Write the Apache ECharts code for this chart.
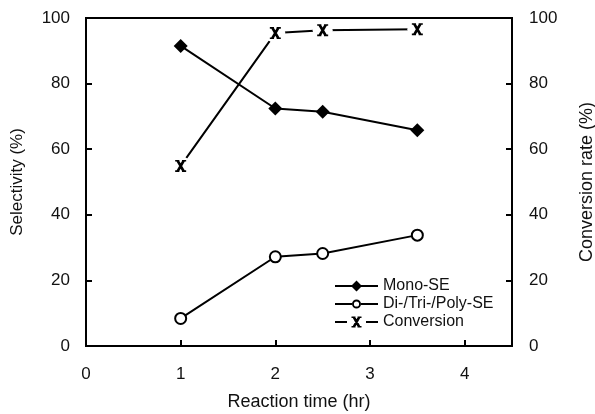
<!DOCTYPE html>
<html>
<head>
<meta charset="utf-8">
<script src="https://cdn.jsdelivr.net/npm/echarts@6/dist/echarts.min.js"></script>
<style>html,body{margin:0;padding:0;background:#fff}#c{width:595px;height:414px}</style>
</head>
<body>
<div id="c"></div>
<script>
// Data
const reactionTime = [1, 2, 2.5, 3.5];
const monoSE = [91.5, 72.4, 71.4, 65.8];
const diTriPolySE = [8.4, 27.2, 28.2, 33.8];
const conversion = [54.9, 95.4, 96.3, 96.6];
const xTicks = [0, 1, 2, 3, 4];
const yTicks = [0, 20, 40, 60, 80, 100];

const pair = (xs, ys) => xs.map((x, i) => [x, ys[i]]);
const FONT = 'Liberation Sans, Arial, sans-serif';
const xMarker = 'path://M0,0H4.2V1.6H0Z M6.8,0H11V1.6H6.8Z M0,10.4H4.2V12H0Z M6.8,10.4H11V12H6.8Z M0.5,0H3.6L10.5,12H7.4Z M7.4,0H10.5L3.6,12H0.5Z';
const monoIcon = 'path://M0,6H43V8H0Z M21.5,1.5L27,7L21.5,12.5L16,7Z';
const diIcon = 'path://M0,6H17V8H0Z M26,6H43V8H26Z M17,7A4.5,4.5 0 1,1 26,7A4.5,4.5 0 1,1 17,7Z M18.9,7A2.6,2.6 0 1,0 24.1,7A2.6,2.6 0 1,0 18.9,7Z';
const convIcon = 'path://M0,6H12V8H0Z M31,6H43V8H31Z M16.5,1.5H20.5V3H16.5Z M22.5,1.5H26.5V3H22.5Z M16.5,11H20.5V12.5H16.5Z M22.5,11H26.5V12.5H22.5Z M17,1.5H20L26,12.5H23Z M23,1.5H26L20,12.5H17Z';

const chart = echarts.init(document.getElementById('c'));
const axisCommon = {
  axisLine: {show: true, lineStyle: {color: '#000', width: 2}},
  axisTick: {show: true, inside: true, length: 6, lineStyle: {color: '#000', width: 2}},
  splitLine: {show: false},
  axisLabel: {color: '#111', fontFamily: FONT, fontSize: 17},
  nameTextStyle: {color: '#111', fontFamily: FONT, fontSize: 17}
};
chart.setOption({
  animation: false,
  backgroundColor: '#fff',
  grid: {left: 86, right: 83, top: 18, bottom: 68, show: true, borderColor: '#000', borderWidth: 2,
         containLabel: false, outerBoundsMode: 'none'},
  legend: {
    orient: 'vertical', left: 330, top: 273, itemWidth: 43, itemHeight: 14, itemGap: 2,
    textStyle: {color: '#111', fontFamily: FONT, fontSize: 16},
    data: [
      {name: 'Mono-SE', icon: monoIcon, itemStyle: {color: '#000', borderWidth: 0}},
      {name: 'Di-/Tri-/Poly-SE', icon: diIcon, itemStyle: {color: '#000', borderWidth: 0}},
      {name: 'Conversion', icon: convIcon, itemStyle: {color: '#000', borderWidth: 0}}
    ]
  },
  xAxis: Object.assign({}, axisCommon, {
    type: 'value', min: xTicks[0], max: 4.5, interval: 1,
    name: 'Reaction time (hr)', nameLocation: 'middle', nameGap: 47,
    nameTextStyle: Object.assign({}, axisCommon.nameTextStyle, {fontSize: 18}),
    axisLabel: Object.assign({}, axisCommon.axisLabel, {margin: 20, showMaxLabel: false})
  }),
  yAxis: [
    Object.assign({}, axisCommon, {
      type: 'value', min: yTicks[0], max: yTicks[yTicks.length - 1], interval: 20, position: 'left',
      name: 'Selectivity (%)', nameLocation: 'middle', nameGap: 60,
      axisLabel: Object.assign({}, axisCommon.axisLabel, {margin: 16})
    }),
    Object.assign({}, axisCommon, {
      type: 'value', min: yTicks[0], max: yTicks[yTicks.length - 1], interval: 20, position: 'right',
      name: 'Conversion rate (%)', nameLocation: 'middle', nameGap: 66,
      nameTextStyle: Object.assign({}, axisCommon.nameTextStyle, {fontSize: 18}),
      axisLabel: Object.assign({}, axisCommon.axisLabel, {margin: 17})
    })
  ],
  series: [
    {
      name: 'Mono-SE', type: 'line', yAxisIndex: 0, data: pair(reactionTime, monoSE),
      symbol: 'diamond', symbolSize: 14,
      lineStyle: {color: '#000', width: 2}, itemStyle: {color: '#000'}, z: 2
    },
    {
      name: 'Di-/Tri-/Poly-SE', type: 'line', yAxisIndex: 0, data: pair(reactionTime, diTriPolySE),
      symbol: 'circle', symbolSize: 11,
      lineStyle: {color: '#000', width: 2}, itemStyle: {color: '#fff', borderColor: '#000', borderWidth: 2}, z: 2
    },
    {
      name: 'Conversion', type: 'line', yAxisIndex: 1, data: pair(reactionTime, conversion),
      symbol: 'none', lineStyle: {color: '#000', width: 2}, itemStyle: {color: '#000'}, z: 2
    },
    {
      name: 'conv-halo', type: 'scatter', yAxisIndex: 1, data: pair(reactionTime, conversion),
      symbol: 'circle', symbolSize: 20, itemStyle: {color: '#fff', opacity: 1}, z: 3, silent: true
    },
    {
      name: 'conv-marker', type: 'scatter', yAxisIndex: 1, data: pair(reactionTime, conversion),
      symbol: xMarker, symbolSize: [11, 12], itemStyle: {color: '#000', opacity: 1}, z: 4, silent: true
    }
  ]
});
</script>
</body>
</html>
